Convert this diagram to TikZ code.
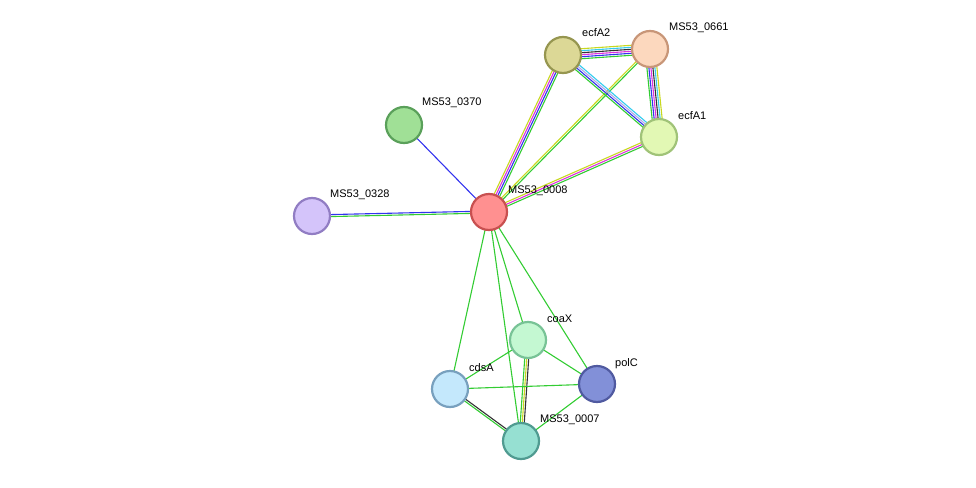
\documentclass[tikz,border=0pt]{standalone}
\usepackage{fontspec}
\setmainfont{Liberation Sans}
\usetikzlibrary{calc}
\newcommand\medge[3]{\foreach \c/\o in {#3}{\draw[\c,line width=1.1] ($(#1)!\o pt!90:(#2)$) -- ($(#2)!\o pt!-90:(#1)$);}}
\definecolor{eg}{HTML}{33CC33}
\definecolor{eb}{HTML}{3333EE}
\definecolor{em}{HTML}{DD33DD}
\definecolor{ey}{HTML}{C8D820}
\definecolor{ec}{HTML}{33CCEE}
\definecolor{ek}{HTML}{333333}
\definecolor{el}{HTML}{B0A8E8}
\begin{document}
\begin{tikzpicture}[x=1pt,y=-1pt,
 prot/.style={circle,minimum size=36pt,inner sep=0,line width=2.2pt},
 lab/.style={anchor=west,inner sep=0,font=\fontsize{11}{11}\selectfont}]
\useasboundingbox (0,0) rectangle (976,487);
\coordinate (p8) at (489,212);
\coordinate (p370) at (404,125);
\coordinate (p328) at (312,216);
\coordinate (pA2) at (563,55);
\coordinate (p661) at (650,49);
\coordinate (pA1) at (659,137);
\coordinate (pcx) at (528,340);
\coordinate (ppc) at (597,384);
\coordinate (pcd) at (450,389);
\coordinate (p7) at (521,441);
% edges
\medge{p8}{p370}{eb/0}
\medge{p8}{p328}{eb/-1,eg/1}
\medge{p8}{pA2}{eg/-3,eb/-1,em/1,ey/3}
\medge{p8}{p661}{eg/-1,ey/1}
\medge{p8}{pA1}{eg/-2,em/0,ey/2}
\medge{pA2}{p661}{eg/-5,eb/-3,em/-1,ek/1,ec/3,ey/5}
\medge{pA2}{pA1}{eg/-3,eb/-1,el/1,ec/3}
\medge{p661}{pA1}{eg/-5,eb/-3,em/-1,ek/1,ec/3,ey/5}
\medge{p8}{pcd}{eg/0}
\medge{p8}{pcx}{eg/0}
\medge{p8}{p7}{eg/0}
\medge{p8}{ppc}{eg/0}
\medge{pcx}{pcd}{eg/0}
\medge{pcx}{ppc}{eg/0}
\medge{pcx}{p7}{eg/-2,ey/0,ek/2}
\medge{pcd}{ppc}{eg/0}
\medge{pcd}{p7}{eg/-1,ek/1}
\medge{ppc}{p7}{eg/0}
% nodes
\node[prot,fill={rgb,255:red,255;green,144;blue,144},draw={rgb,255:red,200;green,80;blue,80}] (n8) at (p8) {};
\node[prot,fill={rgb,255:red,160;green,224;blue,150},draw={rgb,255:red,90;green,160;blue,90}] (n370) at (p370) {};
\node[prot,fill={rgb,255:red,212;green,196;blue,250},draw={rgb,255:red,145;green,125;blue,195}] (n328) at (p328) {};
\node[prot,fill={rgb,255:red,220;green,216;blue,150},draw={rgb,255:red,150;green,150;blue,80}] (nA2) at (pA2) {};
\node[prot,fill={rgb,255:red,252;green,216;blue,190},draw={rgb,255:red,200;green,150;blue,120}] (n661) at (p661) {};
\node[prot,fill={rgb,255:red,226;green,248;blue,180},draw={rgb,255:red,160;green,195;blue,120}] (nA1) at (pA1) {};
\node[prot,fill={rgb,255:red,196;green,248;blue,210},draw={rgb,255:red,120;green,195;blue,150}] (ncx) at (pcx) {};
\node[prot,fill={rgb,255:red,130;green,144;blue,216},draw={rgb,255:red,80;green,90;blue,160}] (npc) at (ppc) {};
\node[prot,fill={rgb,255:red,196;green,232;blue,252},draw={rgb,255:red,120;green,160;blue,190}] (ncd) at (pcd) {};
\node[prot,fill={rgb,255:red,150;green,224;blue,210},draw={rgb,255:red,80;green,155;blue,145}] (n7) at (p7) {};
% labels
\node[lab] (l8) at ($(p8)+(19,-21)$) {MS53\_0008};
\node[lab] (l370) at ($(p370)+(18,-22)$) {MS53\_0370};
\node[lab] (l328) at ($(p328)+(18,-21)$) {MS53\_0328};
\node[lab] (lA2) at ($(pA2)+(19,-22)$) {ecfA2};
\node[lab] (l661) at ($(p661)+(19,-21)$) {MS53\_0661};
\node[lab] (lA1) at ($(pA1)+(19,-21)$) {ecfA1};
\node[lab] (lcx) at ($(pcx)+(19,-21)$) {coaX};
\node[lab] (lpc) at ($(ppc)+(18,-20)$) {polC};
\node[lab] (lcd) at ($(pcd)+(19,-21)$) {cdsA};
\node[lab] (l7) at ($(p7)+(19,-21)$) {MS53\_0007};
\end{tikzpicture}
\end{document}
